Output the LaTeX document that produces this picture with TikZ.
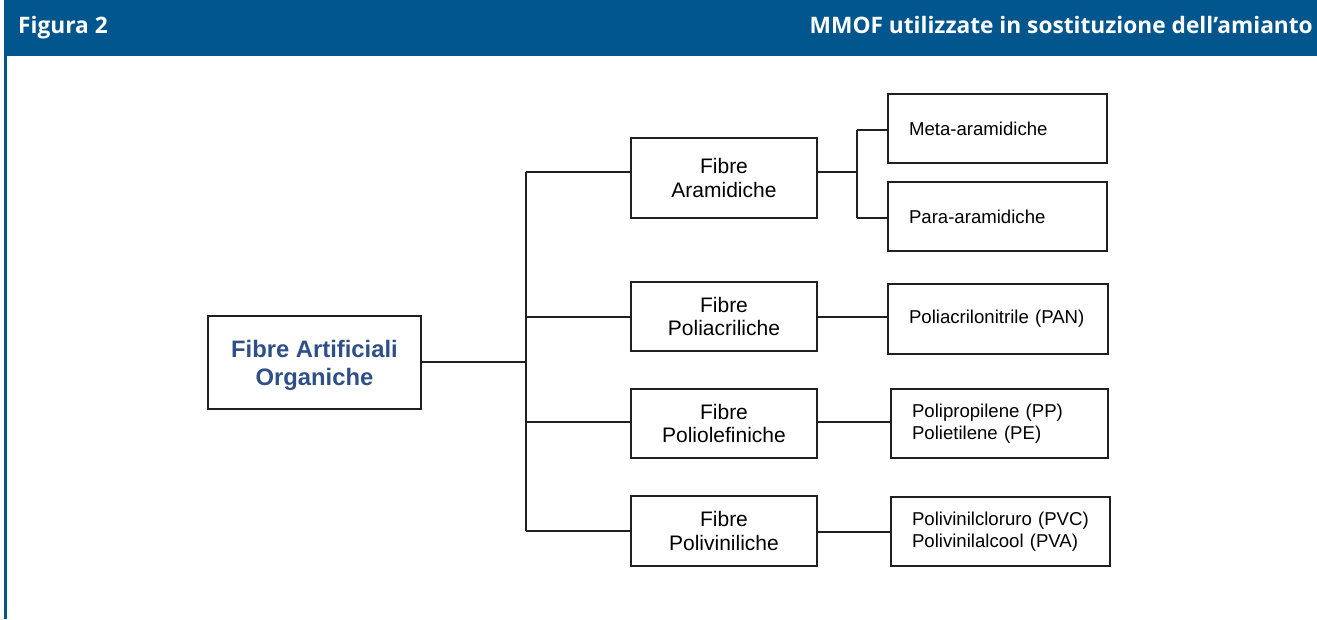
\documentclass[tikz,border=0pt]{standalone}
\usepackage{fontspec}
\setmainfont{Liberation Sans}
\newfontfamily\hdrfont{Open Sans}
\definecolor{hdrblue}{RGB}{2,86,142}
\definecolor{mainblue}{RGB}{47,79,135}
\definecolor{linec}{RGB}{35,31,32}
\tikzset{
  box/.style={draw=linec, line width=1.8pt, inner sep=0pt, fill=white},
  mainbox/.style={box},
  mainlabel/.style={inner sep=0pt, yshift=-3pt, align=center, text=mainblue, font=\fontsize{23.8}{28}\selectfont\bfseries},
  midbox/.style={box, align=center, minimum width=186pt, font=\fontsize{21}{23.5}\selectfont},
  leafbox/.style={box, align=left, inner xsep=21pt, font=\fontsize{18.6}{21.5}\selectfont},
  conn/.style={draw=linec, line width=1.8pt},
  hdrtext/.style={inner sep=0pt, text=white, font=\hdrfont\bfseries\fontsize{22.7}{26}\selectfont}
}
\begin{document}
\begin{tikzpicture}[x=1pt,y=-1pt]
\useasboundingbox (0,0) rectangle (1317,619);
\fill[white] (0,0) rectangle (1317,619);
% header band and left border
\fill[hdrblue] (4,0) rectangle (1317,56);
\fill[hdrblue] (4,56) rectangle (7,619);
\node[hdrtext, anchor=base west] (title) at (18,33) {Figura 2};
\node[hdrtext, anchor=base east] (subtitle) at (1313,33) {MMOF utilizzate in sostituzione dell’amianto};

% nodes
\node[mainbox, minimum width=213pt, minimum height=93pt,
      label={[mainlabel]center:{Fibre Artificiali\\Organiche}}] (main) at (314.5,362.5) {};
\node[midbox, minimum height=80pt] (ara) at (724,178) {Fibre\\Aramidiche};
\node[midbox, minimum height=69pt] (acr) at (724,316.5) {Fibre\\Poliacriliche};
\node[midbox, minimum height=69pt] (ole) at (724,423.5) {Fibre\\Poliolefiniche};
\node[midbox, minimum height=70pt] (vin) at (724,531) {Fibre\\Poliviniliche};

\node[leafbox, text width=177pt, minimum height=69pt] (meta) at (997.5,128.5) {Meta-aramidiche};
\node[leafbox, text width=177pt, minimum height=69pt] (para) at (997.5,216.5) {Para-aramidiche};
\node[leafbox, text width=178pt, minimum height=70pt] (pan) at (998,319) {Poliacrilonitrile (PAN)};
\node[leafbox, text width=175pt, minimum height=69pt] (pp) at (999.5,423.5) {Polipropilene (PP)\\Polietilene (PE)};
\node[leafbox, text width=177pt, minimum height=69pt] (pvc) at (1000.5,531.5) {Polivinilcloruro (PVC)\\Polivinilalcool (PVA)};

% trunk coordinates
\coordinate (t0) at (526,362);
\coordinate (t1) at (526,172);
\coordinate (t2) at (526,317);
\coordinate (t3) at (526,422);
\coordinate (t4) at (526,531);
\draw[conn] (main.east |- t0) -- (t0);
\draw[conn] (t1) -- (t4);
\draw[conn] (t1) -- (t1 -| ara.west);
\draw[conn] (t2) -- (t2 -| acr.west);
\draw[conn] (t3) -- (t3 -| ole.west);
\draw[conn] (t4) -- (t4 -| vin.west);

% aramid sub-branch
\coordinate (s0) at (857,172);
\coordinate (s1) at (857,130);
\coordinate (s2) at (857,218);
\draw[conn] (ara.east |- s0) -- (s0);
\draw[conn] (s1) -- (s2);
\draw[conn] (s1) -- (s1 -| meta.west);
\draw[conn] (s2) -- (s2 -| para.west);

% other connectors
\coordinate (c2) at (817,317);
\coordinate (c3) at (817,422);
\coordinate (c4) at (817,532);
\draw[conn] (acr.east |- c2) -- (c2 -| pan.west);
\draw[conn] (ole.east |- c3) -- (c3 -| pp.west);
\draw[conn] (vin.east |- c4) -- (c4 -| pvc.west);
\end{tikzpicture}
\end{document}
